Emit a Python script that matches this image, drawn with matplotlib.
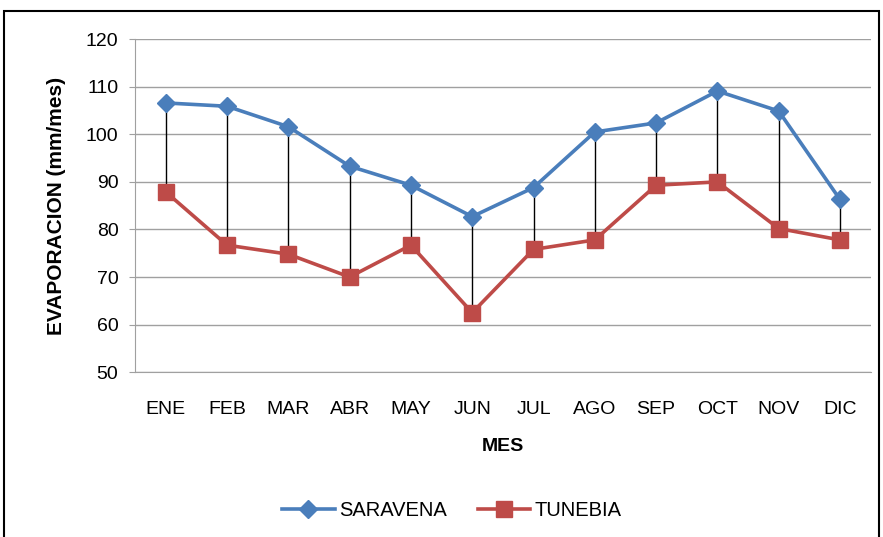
import matplotlib
matplotlib.use("Agg")
import matplotlib.pyplot as plt
from matplotlib.patches import Rectangle

# Datos
meses = ["ENE", "FEB", "MAR", "ABR", "MAY", "JUN", "JUL", "AGO", "SEP", "OCT", "NOV", "DIC"]
saravena = [106.6, 105.9, 101.6, 93.3, 89.3, 82.7, 88.8, 100.5, 102.4, 109.1, 104.9, 86.3]
tunebia = [87.9, 76.7, 74.8, 70.0, 76.7, 62.5, 75.8, 77.8, 89.3, 90.0, 80.2, 77.8]

plt.rcParams['font.family'] = ['Liberation Sans', 'DejaVu Sans']

fig = plt.figure(figsize=(8.83, 5.37), dpi=100)
ax = fig.add_axes([0.153, 0.307, 0.833, 0.620])

x = list(range(len(meses)))

# lineas alto-bajo
ax.vlines(x, tunebia, saravena, color="black", linewidth=1.0, zorder=2)

ax.plot(x, saravena, color="#4A7EBB", linewidth=2.6, marker="D", markersize=9,
        label="SARAVENA", zorder=3)
ax.plot(x, tunebia, color="#BE4B48", linewidth=2.6, marker="s", markersize=11,
        label="TUNEBIA", zorder=3)

ax.set_xlim(-0.5, len(meses) - 0.5)
ax.set_ylim(50, 120)
ax.set_yticks(range(50, 121, 10))
ax.set_xticks(x)
ax.set_xticklabels(meses)
ax.tick_params(axis="x", labelsize=14, length=0, pad=21)
ax.tick_params(axis="y", labelsize=14, length=4, color="#a0a0a0", pad=8)

ax.grid(axis="y", color="#a0a0a0", linewidth=1.0)
ax.set_axisbelow(True)
for side in ["top", "right"]:
    ax.spines[side].set_visible(False)
for side in ["left", "bottom"]:
    ax.spines[side].set_color("#a0a0a0")

ax.set_xlabel("MES", fontsize=14, fontweight="bold", labelpad=14)
ax.set_ylabel("EVAPORACION (mm/mes)", fontsize=15, fontweight="bold", labelpad=14)

fig.legend(loc="center", bbox_to_anchor=(0.512, 0.05), ncol=2, frameon=False,
           fontsize=14.5, handlelength=2.6, handletextpad=0.25, columnspacing=1.5)

# borde exterior
fig.patches.append(Rectangle((0.005, -0.01), 0.99, 0.99, transform=fig.transFigure,
                             fill=False, edgecolor="black", linewidth=1.5))

fig.savefig("out.png", dpi=100)
